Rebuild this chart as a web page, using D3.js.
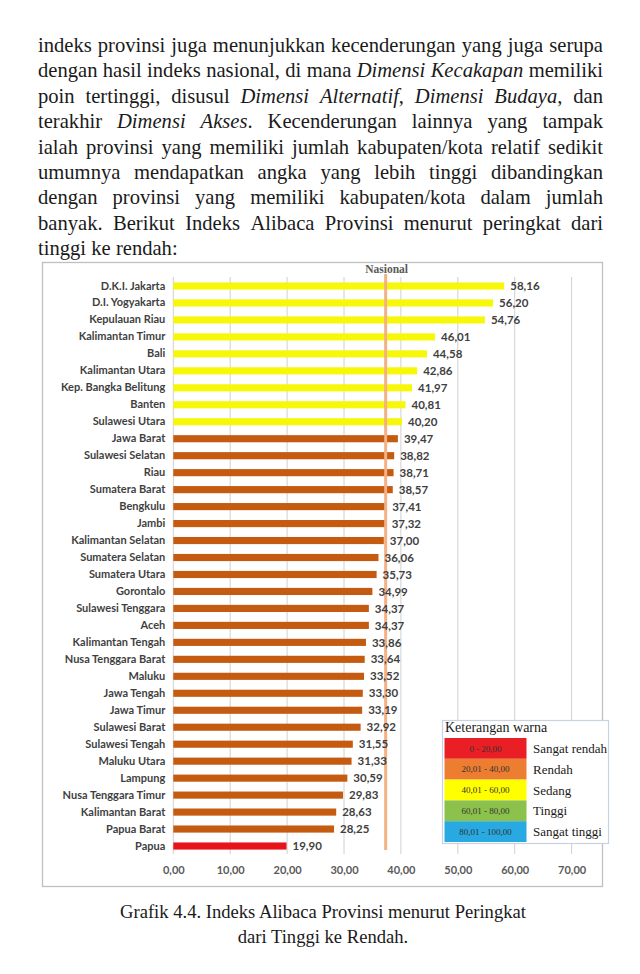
<!DOCTYPE html>
<html>
<head>
<meta charset="utf-8">
<script src="https://cdn.jsdelivr.net/npm/d3@7"></script>
<style>
html,body{margin:0;padding:0;background:#fff;}
svg{display:block;}
</style>
</head>
<body>
<svg id="c" width="640" height="974"></svg>
<script>
// ---------- data ----------
const provinces = ["D.K.I. Jakarta","D.I. Yogyakarta","Kepulauan Riau","Kalimantan Timur","Bali","Kalimantan Utara","Kep. Bangka Belitung","Banten","Sulawesi Utara","Jawa Barat","Sulawesi Selatan","Riau","Sumatera Barat","Bengkulu","Jambi","Kalimantan Selatan","Sumatera Selatan","Sumatera Utara","Gorontalo","Sulawesi Tenggara","Aceh","Kalimantan Tengah","Nusa Tenggara Barat","Maluku","Jawa Tengah","Jawa Timur","Sulawesi Barat","Sulawesi Tengah","Maluku Utara","Lampung","Nusa Tenggara Timur","Kalimantan Barat","Papua Barat","Papua"];
const values = [58.16,56.20,54.76,46.01,44.58,42.86,41.97,40.81,40.20,39.47,38.82,38.71,38.57,37.41,37.32,37.00,36.06,35.73,34.99,34.37,34.37,33.86,33.64,33.52,33.30,33.19,32.92,31.55,31.33,30.59,29.83,28.63,28.25,19.90];
const nasional = 37.32;
const xTicks = [0,10,20,30,40,50,60,70];
const legendRanges = ["0 - 20,00","20,01 - 40,00","40,01 - 60,00","60,01 - 80,00","80,01 - 100,00"];
const legendLabels = ["Sangat rendah","Rendah","Sedang","Tinggi","Sangat tinggi"];
const legendBreaks = [20.005,40.005,60.005,80.005];
const legendColors = ["#ea1f25","#ed7d31","#ffff00","#8cc24c","#29a9e1"];
const barColors = ["#e8141c","#c55a11","#f7f70a","#70ad47","#00b0f0"];

const paragraph = [
  "indeks provinsi juga menunjukkan kecenderungan yang juga serupa",
  "dengan hasil indeks nasional, di mana *Dimensi* *Kecakapan* memiliki",
  "poin tertinggi, disusul *Dimensi* *Alternatif*, *Dimensi* *Budaya*, dan",
  "terakhir *Dimensi* *Akses*. Kecenderungan lainnya yang tampak",
  "ialah provinsi yang memiliki jumlah kabupaten/kota relatif sedikit",
  "umumnya mendapatkan angka yang lebih tinggi dibandingkan",
  "dengan provinsi yang memiliki kabupaten/kota dalam jumlah",
  "banyak. Berikut Indeks Alibaca Provinsi menurut peringkat dari",
  "tinggi ke rendah:"
];
const caption = ["Grafik 4.4. Indeks Alibaca Provinsi menurut Peringkat","dari Tinggi ke Rendah."];

// ---------- drawing ----------
const svg = d3.select("#c");
const serif = "'Liberation Serif', 'DejaVu Serif', serif";
const sans = "Lato, 'Open Sans', sans-serif";

// paragraph (justified)
const pLeft = 38, pRight = 603, pTop = 52, pLead = 25.4, pSize = 20.6;
paragraph.forEach((line, li) => {
  const words = line.split(" ");
  const g = svg.append("g");
  const nodes = words.map(w => {
    const t = g.append("text").attr("y", pTop + li * pLead)
      .attr("font-family", serif).attr("font-size", pSize).attr("fill", "#1a1a1a");
    w.split(/(\*[^*]+\*)/).filter(s => s.length).forEach(p => {
      if (p.startsWith("*")) t.append("tspan").attr("font-style", "italic").text(p.slice(1, -1));
      else t.append("tspan").text(p);
    });
    return t;
  });
  const widths = nodes.map(n => n.node().getComputedTextLength());
  const total = d3.sum(widths);
  const last = li === paragraph.length - 1;
  let gap = last ? 5.2 : (pRight - pLeft - total) / (words.length - 1);
  let scale = 1;
  if (!last && gap < 3.5) { gap = 3.5; scale = (pRight - pLeft - gap * (words.length - 1)) / total; }
  let x = pLeft;
  nodes.forEach((n, i) => {
    n.attr("x", x);
    if (scale < 1) n.attr("textLength", widths[i] * scale).attr("lengthAdjust", "spacingAndGlyphs");
    x += widths[i] * scale + gap;
  });
});

// chart frame
svg.append("rect").attr("x", 42.5).attr("y", 262.5).attr("width", 560).attr("height", 624)
  .attr("fill", "#fff").attr("stroke", "#bfbfbf").attr("stroke-width", 1.3);

const x = d3.scaleLinear().domain([0, 70]).range([173.3, 571.6]);
const y = d3.scaleBand().domain(provinces).range([277.5, 854.5]).paddingInner(0.58).paddingOuter(0.29);
const colorBar = d3.scaleThreshold().domain(legendBreaks).range(barColors);
const colorLeg = d3.scaleOrdinal().domain(legendLabels).range(legendColors);

// gridlines
svg.append("g").selectAll("line").data(xTicks).join("line")
  .attr("x1", d => x(d)).attr("x2", d => x(d))
  .attr("y1", 277).attr("y2", 854)
  .attr("stroke", "#d0d0d0").attr("stroke-width", 1);

// bars
svg.append("g").selectAll("rect").data(values).join("rect")
  .attr("x", x(0)).attr("y", (d, i) => y(provinces[i]))
  .attr("width", d => x(d) - x(0)).attr("height", y.bandwidth())
  .attr("fill", d => colorBar(d));

// nasional line
svg.append("line").attr("x1", x(nasional)).attr("x2", x(nasional))
  .attr("y1", 274).attr("y2", 850)
  .attr("stroke", "#f4b183").attr("stroke-width", 3);
svg.append("text").attr("x", x(nasional) + 1).attr("y", 273)
  .attr("text-anchor", "middle").attr("font-family", serif).attr("font-size", 11.5)
  .attr("font-weight", "bold").attr("fill", "#595959").text("Nasional");

// category labels (y axis)
const yAxis = d3.axisLeft(y).tickSize(0).tickPadding(0);
const ya = svg.append("g").attr("transform", `translate(${x(0) - 8},0)`).call(yAxis);
ya.select(".domain").remove();
ya.selectAll("text").attr("font-family", sans).attr("font-size", 11)
  .attr("font-weight", "bold").attr("fill", "#3f3f3f");

// value labels
const fmt = v => d3.format(".2f")(v).replace(".", ",");
svg.append("g").selectAll("text").data(values).join("text")
  .attr("x", d => x(d) + 6).attr("y", (d, i) => y(provinces[i]) + y.bandwidth() / 2)
  .attr("dy", "0.36em").attr("font-family", sans).attr("font-size", 11.5)
  .attr("font-weight", "bold").attr("fill", "#3f3f3f").text(d => fmt(d));

// x axis labels
const xAxis = d3.axisBottom(x).tickValues(xTicks).tickSize(0).tickPadding(0).tickFormat(fmt);
const xa = svg.append("g").attr("transform", "translate(0,866)").call(xAxis);
xa.select(".domain").remove();
xa.selectAll("text").attr("font-family", sans).attr("font-size", 11)
  .attr("font-weight", "bold").attr("fill", "#595959");

// legend
const lg = svg.append("g");
lg.append("rect").attr("x", 442.5).attr("y", 720.5).attr("width", 166).attr("height", 123)
  .attr("fill", "#fff").attr("stroke", "#c8d2e2").attr("stroke-width", 1.2);
lg.append("text").attr("x", 445).attr("y", 732).attr("font-family", serif)
  .attr("font-size", 14).attr("fill", "#1a1a1a").text("Keterangan warna");
const ly = d3.scaleBand().domain(legendLabels).range([738, 842]);
lg.selectAll("rect.sw").data(legendLabels).join("rect").attr("class", "sw")
  .attr("x", 444.5).attr("y", d => ly(d)).attr("width", 82).attr("height", ly.bandwidth())
  .attr("fill", d => colorLeg(d));
lg.selectAll("text.rg").data(legendRanges).join("text").attr("class", "rg")
  .attr("x", 485.5).attr("y", (d, i) => ly(legendLabels[i]) + ly.bandwidth() / 2)
  .attr("dy", "0.35em").attr("text-anchor", "middle").attr("font-family", serif)
  .attr("font-size", 9).attr("fill", "#333").text(d => d);
lg.selectAll("text.lb").data(legendLabels).join("text").attr("class", "lb")
  .attr("x", 533).attr("y", d => ly(d) + ly.bandwidth() / 2)
  .attr("dy", "0.35em").attr("font-family", serif)
  .attr("font-size", 13).attr("fill", "#1a1a1a").text(d => d);

// caption
svg.selectAll("text.cap").data(caption).join("text").attr("class", "cap")
  .attr("x", 323).attr("y", (d, i) => 918 + i * 24.5)
  .attr("text-anchor", "middle").attr("font-family", serif)
  .attr("font-size", 18.6).attr("fill", "#1a1a1a").text(d => d);
</script>
</body>
</html>
